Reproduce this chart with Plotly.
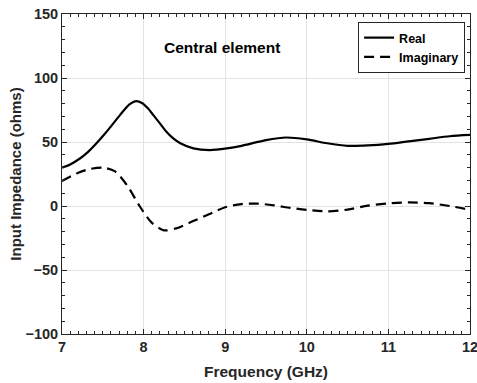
import plotly.graph_objects as go

freq_real = [7.0, 7.1, 7.22, 7.32, 7.42, 7.52, 7.6, 7.71, 7.83, 7.91, 7.98, 8.05, 8.12, 8.2, 8.28, 8.36, 8.45,
             8.61, 8.81, 9.02, 9.2, 9.5, 9.75, 10.0, 10.25, 10.5, 10.75, 11.0, 11.25, 11.5, 11.75, 12.0]
real_vals = [30, 32.5, 37.1, 42.3, 48.8, 56, 62.2, 71, 79.5, 82, 80.5, 76.5, 71, 64.5, 58, 53, 49,
             45, 43.7, 45, 47, 51.5, 53.5, 52, 49, 47, 47.3, 48.5, 50.5, 52.5, 54.5, 55.5]

freq_imag = [7.0, 7.2, 7.35, 7.5, 7.65, 7.8, 7.95, 8.1, 8.25, 8.4, 8.6, 8.8, 9.0, 9.2, 9.4,
             9.6, 9.8, 10.0, 10.25, 10.5, 10.75, 11.0, 11.25, 11.5, 11.75, 12.0]
imag_vals = [19.5, 26, 29, 30, 27, 16, 0, -13, -19, -17.5, -12, -6.5, -1, 1.5, 1.8,
             0.5, -1.5, -3, -4.2, -2.8, 0.3, 2, 2.8, 2.2, 0, -3]

x_ticks = [7, 8, 9, 10, 11, 12]
y_ticks = [-100, -50, 0, 50, 100, 150]

FONT = "Liberation Sans, Arial, sans-serif"
DARK = "#262626"

fig = go.Figure()
fig.add_trace(go.Scatter(x=freq_real, y=real_vals, mode="lines", name="Real",
                         line=dict(color="black", width=2.2, shape="spline", smoothing=0.8)))
fig.add_trace(go.Scatter(x=freq_imag, y=imag_vals, mode="lines", name="Imaginary",
                         line=dict(color="black", width=2.2, dash="10px,6px", shape="spline", smoothing=0.8)))

axis_common = dict(
    showline=True, linecolor=DARK, linewidth=1, mirror="allticks",
    ticks="inside", ticklen=5, tickcolor=DARK, tickwidth=1,
    showgrid=True, gridcolor="#e3e3e3", gridwidth=1,
    zeroline=False,
    tickfont=dict(family=FONT, size=14.5, color=DARK, weight="bold"),
    ticklabeloverflow="allow",
    automargin=False,
)

fig.update_xaxes(range=[7, 12], tickvals=x_ticks,
                 minor=dict(dtick=0.1, ticks="inside", ticklen=3, tickcolor=DARK, showgrid=False),
                 title=dict(text="Frequency (GHz)", standoff=11,
                            font=dict(family=FONT, size=15.5, color=DARK, weight="bold")),
                 **axis_common)
fig.update_yaxes(range=[-100, 150], tickvals=y_ticks,
                 minor=dict(dtick=10, ticks="inside", ticklen=3, tickcolor=DARK, showgrid=False),
                 title=dict(text="Input Impedance (ohms)", standoff=0,
                            font=dict(family=FONT, size=15, color=DARK, weight="bold")),
                 **axis_common)

fig.add_annotation(text="Central element", x=0.392, y=0.895, xref="paper", yref="paper",
                   showarrow=False, xanchor="center", yanchor="middle",
                   font=dict(family=FONT, size=15.5, color="black", weight="bold"))

fig.update_layout(
    width=477, height=383,
    margin=dict(l=62, r=7, t=14, b=49),
    paper_bgcolor="white", plot_bgcolor="white",
    legend=dict(x=0.988, y=0.975, xanchor="right", yanchor="top",
                bgcolor="white", bordercolor=DARK, borderwidth=1,
                font=dict(family=FONT, size=12.5, color="black", weight="bold"),
                tracegroupgap=0, itemwidth=30),
    showlegend=True,
)

fig.write_html("out.html")
